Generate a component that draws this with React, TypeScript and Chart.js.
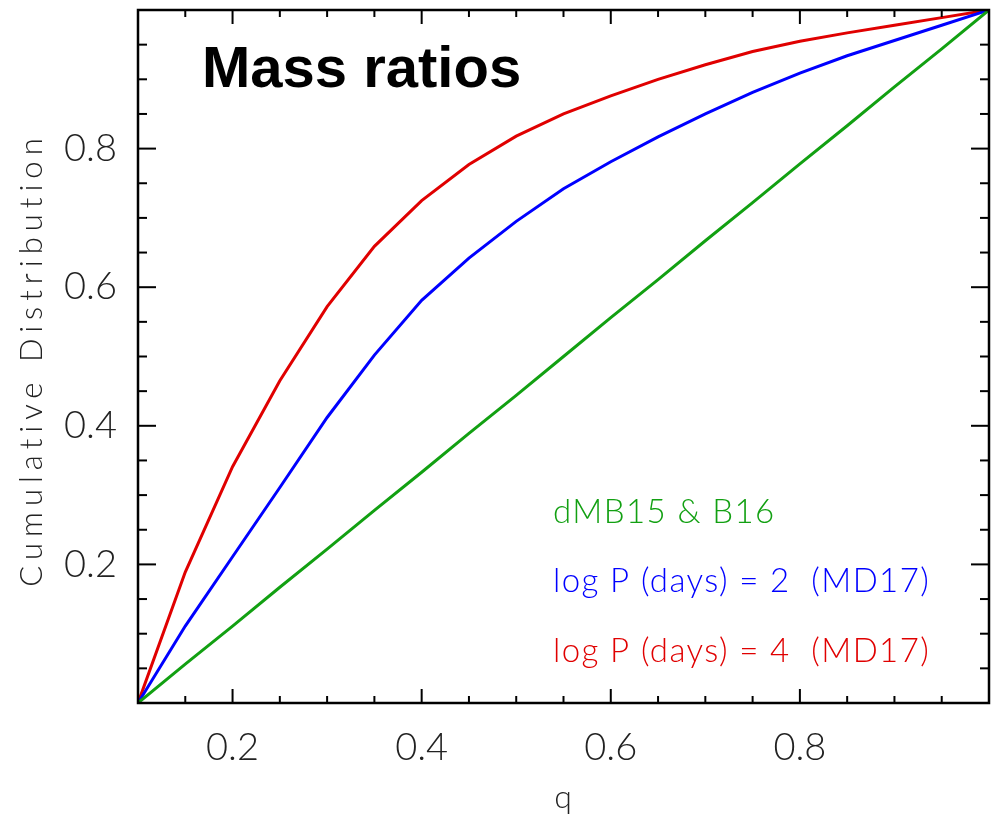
import React, { useEffect, useRef } from 'react';
import { Chart, registerables } from 'chart.js';

Chart.register(...registerables);

// ---- data ----
const qValues = [0.1, 0.15, 0.2, 0.25, 0.3, 0.35, 0.4, 0.45, 0.5, 0.55, 0.6, 0.65, 0.7, 0.75, 0.8, 0.85, 0.9, 0.95, 1.0];
const dmb15B16 = [0, 0.056, 0.111, 0.167, 0.222, 0.278, 0.333, 0.389, 0.444, 0.5, 0.556, 0.611, 0.667, 0.722, 0.778, 0.833, 0.889, 0.944, 1.0];
const md17LogP2 = [0, 0.111, 0.211, 0.311, 0.412, 0.502, 0.581, 0.642, 0.695, 0.742, 0.781, 0.817, 0.85, 0.881, 0.909, 0.934, 0.956, 0.978, 1.0];
const md17LogP4 = [0, 0.189, 0.341, 0.465, 0.572, 0.659, 0.725, 0.777, 0.818, 0.85, 0.876, 0.9, 0.921, 0.94, 0.955, 0.967, 0.978, 0.989, 1.0];

const seriesLabels = ['dMB15 & B16', 'log P (days) = 2  (MD17)', 'log P (days) = 4  (MD17)'];
const seriesColors = ['#12a012', '#0000ff', '#e00000'];

const xTickLabels = [0.2, 0.4, 0.6, 0.8];
const yTickLabels = [0.2, 0.4, 0.6, 0.8];
const xMinorTicks = [0.15, 0.25, 0.3, 0.35, 0.45, 0.5, 0.55, 0.65, 0.7, 0.75, 0.85, 0.9, 0.95];
const yMinorTicks = [0.05, 0.1, 0.15, 0.25, 0.3, 0.35, 0.45, 0.5, 0.55, 0.65, 0.7, 0.75, 0.85, 0.9, 0.95];

const chartTitle = 'Mass ratios';
const xTitle = 'q';
const yTitle = 'Cumulative Distribution';

const thinFamily = '"Lato", "DejaVu Sans", sans-serif';

const toPoints = (ys: number[]) => ys.map((y, i) => ({ x: qValues[i], y }));

const framePlugin = {
  id: 'frameAndText',
  afterDraw(chart: any) {
    const { ctx, chartArea: a, scales } = chart;
    const xs = scales.x;
    const ys = scales.y;
    ctx.save();
    ctx.strokeStyle = '#000';
    ctx.lineCap = 'butt';
    // ticks
    ctx.lineWidth = 2;
    const seg = (x1: number, y1: number, x2: number, y2: number) => {
      ctx.beginPath();
      ctx.moveTo(x1, y1);
      ctx.lineTo(x2, y2);
      ctx.stroke();
    };
    const xt = [...xTickLabels.map((v) => [v, 14]), ...xMinorTicks.map((v) => [v, 7])];
    for (const [v, len] of xt) {
      const px = xs.getPixelForValue(v);
      seg(px, a.bottom, px, a.bottom - len);
      seg(px, a.top, px, a.top + len);
    }
    const yt = [...yTickLabels.map((v) => [v, 18]), ...yMinorTicks.map((v) => [v, 9])];
    for (const [v, len] of yt) {
      const py = ys.getPixelForValue(v);
      seg(a.left, py, a.left + len, py);
      seg(a.right, py, a.right - len, py);
    }
    // frame
    ctx.lineWidth = 2.5;
    ctx.strokeRect(a.left, a.top, a.right - a.left, a.bottom - a.top);

    // main title
    ctx.fillStyle = '#000';
    ctx.font = 'bold 58px "Liberation Sans", Arial, sans-serif';
    ctx.textAlign = 'left';
    ctx.textBaseline = 'alphabetic';
    ctx.fillText(chartTitle, 202, 87);

    // legend text
    ctx.font = `300 33px ${thinFamily}`;
    (ctx as any).letterSpacing = '1.4px';
    const baselines = [523, 592, 662];
    seriesLabels.forEach((t, i) => {
      ctx.fillStyle = seriesColors[i];
      ctx.fillText(t, 553, baselines[i]);
    });

    // axis titles
    ctx.fillStyle = '#222';
    ctx.font = `300 32px ${thinFamily}`;
    (ctx as any).letterSpacing = '1px';
    ctx.textAlign = 'center';
    ctx.fillText(xTitle, (a.left + a.right) / 2, 808);

    ctx.save();
    ctx.translate(42, (a.top + a.bottom) / 2 + 3);
    ctx.rotate(-Math.PI / 2);
    ctx.font = `300 31px ${thinFamily}`;
    (ctx as any).letterSpacing = '6px';
    ctx.fillText(yTitle, 0, 0);
    ctx.restore();

    ctx.restore();
  },
};

export default function App() {
  const canvasRef = useRef<HTMLCanvasElement | null>(null);

  useEffect(() => {
    document.body.style.margin = '0';
    const canvas = canvasRef.current;
    if (!canvas) return;
    const chart = new Chart(canvas, {
      type: 'line',
      data: {
        datasets: [
          { label: seriesLabels[0], data: toPoints(dmb15B16), borderColor: seriesColors[0], borderWidth: 3, pointRadius: 0, tension: 0, fill: false },
          { label: seriesLabels[1], data: toPoints(md17LogP2), borderColor: seriesColors[1], borderWidth: 3, pointRadius: 0, tension: 0, fill: false },
          { label: seriesLabels[2], data: toPoints(md17LogP4), borderColor: seriesColors[2], borderWidth: 3, pointRadius: 0, tension: 0, fill: false },
        ],
      },
      options: {
        animation: false,
        responsive: false,
        devicePixelRatio: 1,
        layout: { padding: { top: 10, right: 11, left: 0, bottom: 0 } },
        plugins: {
          legend: { display: false },
          tooltip: { enabled: false },
          title: { display: false },
        },
        scales: {
          x: {
            type: 'linear',
            min: 0.1,
            max: 1.0,
            grid: { display: false },
            border: { display: false },
            afterBuildTicks: (s: any) => {
              s.ticks = xTickLabels.map((v) => ({ value: v }));
            },
            afterFit: (s: any) => {
              s.height = 117;
              s.paddingLeft = 0;
              s.paddingRight = 0;
            },
            ticks: {
              color: '#222',
              padding: 14,
              maxRotation: 0,
              autoSkip: false,
              font: { family: thinFamily, size: 38, weight: 300 as any },
              callback: (v: any) => Number(v).toFixed(1),
            },
          },
          y: {
            type: 'linear',
            min: 0,
            max: 1,
            grid: { display: false },
            border: { display: false },
            afterBuildTicks: (s: any) => {
              s.ticks = yTickLabels.map((v) => ({ value: v }));
            },
            afterFit: (s: any) => {
              s.width = 138;
              s.paddingTop = 0;
              s.paddingBottom = 0;
            },
            ticks: {
              color: '#222',
              padding: 13,
              autoSkip: false,
              font: { family: thinFamily, size: 38, weight: 300 as any },
              callback: (v: any) => Number(v).toFixed(1),
            },
          },
        },
      },
      plugins: [framePlugin],
    } as any);
    return () => chart.destroy();
  }, []);

  return (
    <div style={{ width: 1000, height: 820 }}>
      <canvas ref={canvasRef} width={1000} height={820} style={{ display: 'block' }} />
    </div>
  );
}
